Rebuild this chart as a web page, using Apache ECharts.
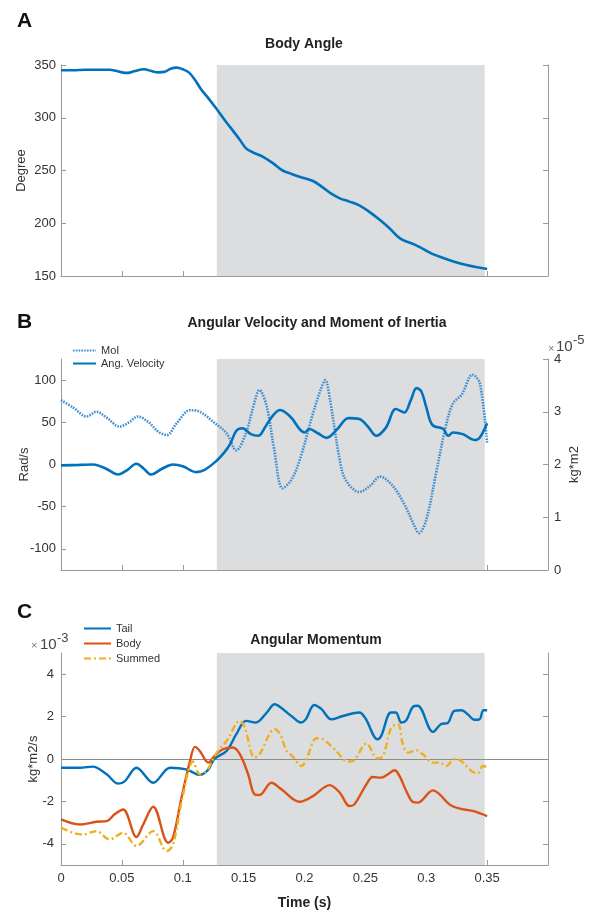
<!DOCTYPE html>
<html>
<head>
<meta charset="utf-8">
<script src="https://cdn.jsdelivr.net/npm/echarts@6/dist/echarts.min.js"></script>
<style>html,body{margin:0;padding:0;background:#fff}#c{width:595px;height:911px}</style>
</head>
<body>
<div id="c"></div>
<script>
// ---------- data ----------
const xTicks = [0, 0.05, 0.1, 0.15, 0.2, 0.25, 0.3, 0.35];
const shadeRange = [0.128, 0.348];

// Panel A: body angle (degree)
const angleT = [0,0.01,0.02,0.03,0.04,0.045,0.05,0.055,0.06,0.068,0.075,0.08,0.085,0.09,0.095,0.1,0.105,0.11,0.115,0.12,0.128,0.135,0.141,0.147,0.152,0.158,0.166,0.174,0.182,0.19,0.196,0.207,0.215,0.222,0.229,0.237,0.245,0.253,0.262,0.27,0.276,0.281,0.29,0.297,0.305,0.314,0.323,0.333,0.342,0.35];
const angleV = [345,345,345.5,345.5,345.5,344.5,343,342.5,344,346,344,343,343.5,346.5,347.5,346,343,336,327,320,308,297,288,279,271,267,263,257,250,246.5,244,240,234,228,223.6,220.5,217,211,203,195,188,184,180,176,171,167,163.5,160.4,158.3,156.7];

// Panel B: moment of inertia (x1e-5 kg*m2) and angular velocity (rad/s)
const moiT = [0,0.01,0.021,0.029,0.038,0.048,0.056,0.063,0.072,0.08,0.087,0.095,0.106,0.114,0.125,0.136,0.144,0.152,0.158,0.163,0.169,0.175,0.182,0.189,0.196,0.207,0.213,0.217,0.221,0.229,0.234,0.245,0.254,0.262,0.273,0.283,0.29,0.294,0.3,0.308,0.316,0.322,0.329,0.338,0.344,0.35];
const moiV = [3.22,3.08,2.91,3.0,2.88,2.72,2.8,2.91,2.8,2.62,2.56,2.78,3.03,3.0,2.81,2.59,2.27,2.6,3.1,3.41,3.1,2.3,1.55,1.7,2.08,2.97,3.4,3.6,3.22,2.08,1.7,1.48,1.6,1.77,1.58,1.2,0.85,0.7,0.95,1.83,2.72,3.16,3.32,3.7,3.54,2.4];
const avT = [0,0.015,0.0265,0.037,0.047,0.054,0.062,0.068,0.074,0.083,0.092,0.1,0.111,0.118,0.128,0.134,0.139,0.144,0.149,0.156,0.162,0.168,0.174,0.18,0.185,0.19,0.196,0.2,0.204,0.211,0.218,0.227,0.236,0.245,0.252,0.259,0.267,0.275,0.282,0.287,0.292,0.296,0.3,0.305,0.314,0.318,0.322,0.33,0.34,0.344,0.35];
const avV = [-1,-0.5,0,-5,-11.8,-7,0.8,-5,-11.8,-5,0,-2,-9,-6.3,4.7,14,24.4,40,43,36,34,45,58,64.6,61,54,42,38,42,37,31.5,42,55,54,45,34,44,65.7,61.7,75,90.5,86.5,68,47,42,34,38,36,29,32,49];

// Panel C: angular momentum (x1e-3 kg*m2/s)
const tailT = [0,0.0156,0.026,0.0375,0.047,0.0525,0.062,0.0757,0.0897,0.103,0.114,0.121,0.126,0.136,0.144,0.152,0.16,0.169,0.1755,0.18,0.19,0.197,0.201,0.208,0.214,0.222,0.2316,0.245,0.25,0.26,0.263,0.271,0.275,0.2795,0.2836,0.289,0.293,0.3055,0.312,0.318,0.323,0.329,0.334,0.3396,0.3437,0.347,0.35];
const tailV = [-0.41,-0.41,-0.36,-0.72,-1.16,-1.04,-0.41,-1.12,-0.41,-0.49,-0.75,-0.5,0,0.38,1.17,1.8,1.72,2.19,2.58,2.45,1.99,1.72,1.87,2.55,2.35,1.87,2.03,2.19,1.92,0.93,1.09,2.19,2.19,1.72,1.83,2.46,2.51,1.28,1.64,1.72,2.27,2.3,2.11,1.85,1.87,2.3,2.3];
const bodyT = [0,0.0156,0.029,0.0375,0.044,0.051,0.062,0.0675,0.0757,0.088,0.092,0.099,0.106,0.11,0.114,0.121,0.126,0.133,0.141,0.147,0.1537,0.159,0.163,0.1728,0.181,0.196,0.207,0.2207,0.229,0.237,0.241,0.2508,0.256,0.263,0.2686,0.274,0.278,0.2836,0.289,0.293,0.3055,0.311,0.319,0.327,0.338,0.35];
const bodyV = [-2.85,-3.09,-2.96,-2.93,-2.61,-2.38,-3.68,-3.09,-2.25,-3.95,-3.71,-1.82,-0.09,0.57,0.38,-0.17,0.14,0.46,0.54,0.22,-0.72,-1.67,-1.7,-1.12,-1.43,-2.02,-1.75,-1.23,-1.59,-2.22,-2.14,-1.2,-0.85,-0.88,-0.72,-0.53,-0.8,-1.51,-2.03,-2.06,-1.48,-1.67,-2.14,-2.33,-2.45,-2.69];
const sumT = [0,0.01,0.018,0.029,0.04,0.051,0.062,0.0757,0.0868,0.092,0.1003,0.1085,0.114,0.1195,0.128,0.136,0.147,0.151,0.159,0.163,0.1755,0.18,0.1852,0.19,0.1975,0.201,0.21,0.215,0.2248,0.2357,0.24,0.2508,0.26,0.2645,0.2713,0.2767,0.2808,0.285,0.2918,0.2972,0.3055,0.311,0.3164,0.3232,0.3287,0.3369,0.3423,0.3465,0.35];
const sumV = [-3.24,-3.48,-3.56,-3.4,-3.79,-3.48,-4.1,-3.4,-4.34,-4.03,-1.67,-0.12,-0.72,-0.56,0.3,0.85,1.8,1.48,0.07,0.22,1.4,1.17,0.38,0.14,-0.33,-0.09,0.98,0.93,0.46,-0.12,-0.09,0.73,0.03,0.14,1.48,1.64,0.69,0.3,0.41,0.22,-0.17,-0.17,-0.33,0,-0.09,-0.56,-0.67,-0.33,-0.38];

const ticksB = [-100, -50, 0, 50, 100];
const ticksC = [-4, -2, 0, 2, 4];

// ---------- chart ----------
const zip = (t, v) => t.map((x, i) => [x, v[i]]);
const FONT = 'Liberation Sans, Arial, Helvetica, sans-serif';
const AX = '#9a9a9a';
const TXT = '#333';
const BLUE = '#0072BD', RED = '#D95319', YEL = '#EDB120', MOI = '#3f8fd2';
const SHADE = '#dcdddf';

const grids = [
  {left: 61, right: 47, top: 65, height: 211, outerBoundsMode: 'none'},
  {left: 61, right: 47, top: 359, height: 211, outerBoundsMode: 'none'},
  {left: 61, right: 47, top: 653, height: 212, outerBoundsMode: 'none'}
];

function xAx(gi, showLabel) {
  return {
    type: 'value', gridIndex: gi, min: 0, max: 0.4, interval: 0.05,
    axisLine: {onZero: false, lineStyle: {color: AX, width: 1}},
    axisTick: {inside: true, length: 5, lineStyle: {color: AX}},
    splitLine: {show: false},
    axisLabel: {show: showLabel, color: TXT, fontSize: 13, fontFamily: FONT, margin: 7,
      formatter: v => (v > 0.375 ? '' : String(+v.toFixed(2)))},
    name: showLabel ? 'Time (s)' : '', nameLocation: 'middle', nameGap: 31, nameMoveOverlap: false,
    nameTextStyle: {color: '#222', fontSize: 14, fontWeight: 'bold', fontFamily: FONT}
  };
}
function yAx(gi, pos, min, max, opt) {
  const o = {
    type: 'value', gridIndex: gi, position: pos, min: min, max: max,
    axisLine: {show: true, onZero: false, lineStyle: {color: AX, width: 1}},
    axisTick: {show: true, inside: true, length: 5, lineStyle: {color: AX}},
    splitLine: {show: false},
    axisLabel: {show: true, color: TXT, fontSize: 13, fontFamily: FONT, margin: 5},
    nameLocation: 'middle', nameMoveOverlap: false,
    nameTextStyle: {color: TXT, fontSize: 13, fontFamily: FONT}
  };
  return Object.assign(o, opt || {});
}

const chart = echarts.init(document.getElementById('c'), null, {renderer: 'canvas'});

const option = {
  animation: false,
  backgroundColor: '#fff',
  grid: grids,
  xAxis: [xAx(0, false), xAx(1, false), xAx(2, true)],
  yAxis: [
    yAx(0, 'left', 150, 350, {interval: 50, name: 'Degree', nameGap: 33}),
    yAx(0, 'right', 150, 350, {interval: 50, axisLabel: {show: false}}),
    yAx(1, 'left', -125, 125, {name: 'Rad/s', nameGap: 30,
      axisLabel: {show: true, color: TXT, fontSize: 13, fontFamily: FONT, margin: 5, customValues: ticksB},
      axisTick: {show: true, inside: true, length: 5, lineStyle: {color: AX}, customValues: ticksB}}),
    yAx(1, 'right', 0, 4, {interval: 1, name: 'kg*m2', nameGap: 20,
      axisLabel: {show: true, color: TXT, fontSize: 13, fontFamily: FONT, margin: 6}}),
    yAx(2, 'left', -5, 5, {name: 'kg*m2/s', nameGap: 21,
      axisLabel: {show: true, color: TXT, fontSize: 13, fontFamily: FONT, margin: 7, customValues: ticksC},
      axisTick: {show: true, inside: true, length: 5, lineStyle: {color: AX}, customValues: ticksC}}),
    yAx(2, 'right', -5, 5, {axisLabel: {show: false},
      axisTick: {show: true, inside: true, length: 5, lineStyle: {color: AX}, customValues: ticksC}})
  ],
  legend: [
    {data: ['MoI', 'Ang. Velocity'], orient: 'vertical', left: 72, top: 345, padding: 0, itemWidth: 23, itemHeight: 10,
      itemGap: 2, itemStyle: {opacity: 0}, textStyle: {fontSize: 11, color: TXT, fontFamily: FONT}, selectedMode: false},
    {data: ['Tail', 'Body', 'Summed'], orient: 'vertical', left: 83, top: 623, padding: 0, itemWidth: 27, itemHeight: 12,
      itemGap: 4, itemStyle: {opacity: 0}, textStyle: {fontSize: 11, color: TXT, fontFamily: FONT}, selectedMode: false}
  ],
  series: [
    {type: 'line', name: 'Body Angle', xAxisIndex: 0, yAxisIndex: 0, data: zip(angleT, angleV),
      smooth: 0.35, symbol: 'none', lineStyle: {color: BLUE, width: 2.6}, itemStyle: {color: BLUE}, z: 3,
      markArea: {silent: true, itemStyle: {color: SHADE}, data: [[{xAxis: shadeRange[0]}, {xAxis: shadeRange[1]}]]}},
    {type: 'line', name: 'MoI', xAxisIndex: 1, yAxisIndex: 3, data: zip(moiT, moiV),
      smooth: 0.35, symbol: 'none', lineStyle: {color: MOI, width: 2.6, type: [1.6, 1.2]}, itemStyle: {color: MOI}, z: 3,
      markArea: {silent: true, itemStyle: {color: SHADE}, data: [[{xAxis: shadeRange[0]}, {xAxis: shadeRange[1]}]]}},
    {type: 'line', name: 'Ang. Velocity', xAxisIndex: 1, yAxisIndex: 2, data: zip(avT, avV),
      smooth: 0.35, symbol: 'none', lineStyle: {color: BLUE, width: 2.6}, itemStyle: {color: BLUE}, z: 4},
    {type: 'line', name: 'Tail', xAxisIndex: 2, yAxisIndex: 4, data: zip(tailT, tailV),
      smooth: 0.35, symbol: 'none', lineStyle: {color: BLUE, width: 2.4}, itemStyle: {color: BLUE}, z: 3,
      markArea: {silent: true, itemStyle: {color: SHADE}, data: [[{xAxis: shadeRange[0]}, {xAxis: shadeRange[1]}]]},
      markLine: {silent: true, symbol: 'none', label: {show: false}, lineStyle: {color: '#8c8c8c', width: 1, type: 'solid'},
        data: [{yAxis: 0}], z: 1}},
    {type: 'line', name: 'Body', xAxisIndex: 2, yAxisIndex: 4, data: zip(bodyT, bodyV),
      smooth: 0.35, symbol: 'none', lineStyle: {color: RED, width: 2.4}, itemStyle: {color: RED}, z: 3},
    {type: 'line', name: 'Summed', xAxisIndex: 2, yAxisIndex: 4, data: zip(sumT, sumV),
      smooth: 0.35, symbol: 'none', lineStyle: {color: YEL, width: 2.4, type: [7, 3, 2, 3]}, itemStyle: {color: YEL}, z: 4}
  ],
  graphic: [
    {type: 'text', x: 17, y: 11, style: {text: 'A', font: 'bold 21px ' + FONT, fill: '#111'}},
    {type: 'text', x: 17, y: 312, style: {text: 'B', font: 'bold 21px ' + FONT, fill: '#111'}},
    {type: 'text', x: 17, y: 602, style: {text: 'C', font: 'bold 21px ' + FONT, fill: '#111'}},
    {type: 'text', x: 304, y: 44, style: {text: 'Body Angle', font: 'bold 14px ' + FONT, fill: '#222', textAlign: 'center', textVerticalAlign: 'middle'}},
    {type: 'text', x: 317, y: 323, style: {text: 'Angular Velocity and Moment of Inertia', font: 'bold 14px ' + FONT, fill: '#222', textAlign: 'center', textVerticalAlign: 'middle'}},
    {type: 'text', x: 316, y: 640, style: {text: 'Angular Momentum', font: 'bold 14px ' + FONT, fill: '#222', textAlign: 'center', textVerticalAlign: 'middle'}},
    {type: 'text', x: 548, y: 349, style: {text: '×', font: '11px ' + FONT, fill: '#777', textVerticalAlign: 'middle'}},
    {type: 'text', x: 556, y: 347, style: {text: '10', font: '15px ' + FONT, fill: '#444', textVerticalAlign: 'middle'}},
    {type: 'text', x: 573, y: 340, style: {text: '-5', font: '13px ' + FONT, fill: '#444', textVerticalAlign: 'middle'}},
    {type: 'text', x: 31, y: 646, style: {text: '×', font: '11px ' + FONT, fill: '#777', textVerticalAlign: 'middle'}},
    {type: 'text', x: 40, y: 645, style: {text: '10', font: '15px ' + FONT, fill: '#444', textVerticalAlign: 'middle'}},
    {type: 'text', x: 57, y: 638, style: {text: '-3', font: '13px ' + FONT, fill: '#444', textVerticalAlign: 'middle'}}
  ]
};
chart.setOption(option);
</script>
</body>
</html>
